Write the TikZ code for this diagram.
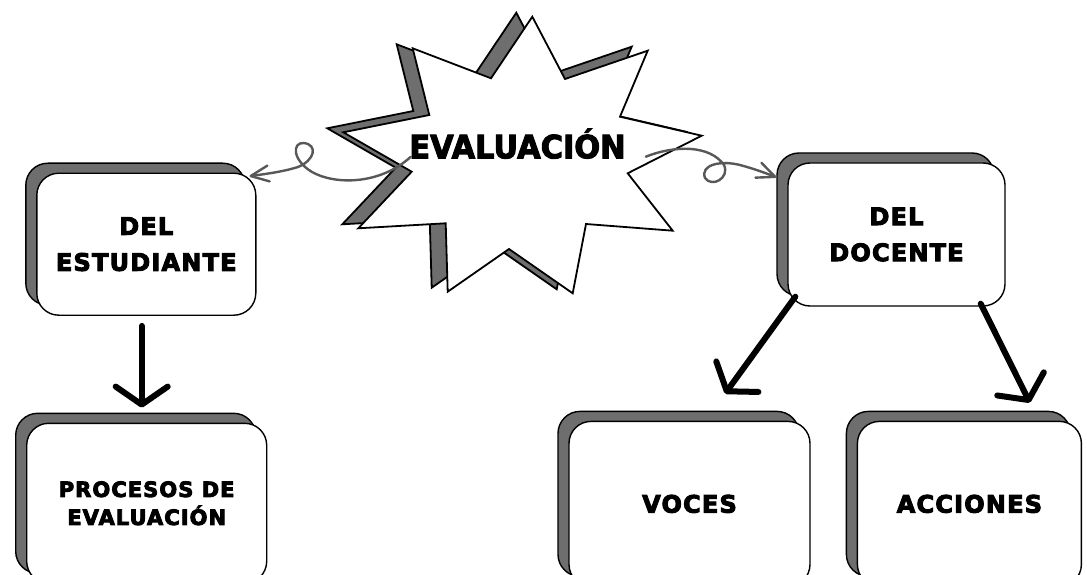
\documentclass[tikz,border=0pt]{standalone}
\usepackage{fontspec}
\usepackage{tikz}
\usetikzlibrary{calc}
\usetikzlibrary{positioning}
\usetikzlibrary{shadows,arrows.meta}

\newfontfamily\cardFont{DejaVu Sans Bold}[LetterSpace=5,FakeBold=4]
\newfontfamily\titleFont{DejaVu Sans Bold}[FakeStretch=0.95,FakeBold=3]
\definecolor{shadowGray}{HTML}{6E6E6E}
\definecolor{curlGray}{HTML}{585858}

\begin{document}
\begin{tikzpicture}[x=1pt, y=-1pt]
            \useasboundingbox (0,0) rectangle (1087,575);
            \clip (0,0) rectangle (1087,575);
            % Set primary nodes
            \tikzset{
                cardNode/.style={
                        draw,
                        rectangle,
                        rounded corners=22pt,
                        fill=white,
                        line width=1.4pt,
                        align=center,
                        font=\cardFont\fontsize{24}{36}\selectfont,
                        general shadow={fill=shadowGray, draw=black, shadow xshift=-11pt, shadow yshift=10pt}
                    }
            }
            \tikzset{
                titleNode/.style={
                        inner sep=0pt,
                        font=\titleFont\fontsize{32}{36}\selectfont
                    }
            }
            \tikzset{
                starShape/.style={
                        draw=black,
                        line width=1.8pt,
                        line join=miter
                    }
            }
            % Configure arrows
            \tikzset{
                bigArrow/.style={
                        draw=black,
                        line width=6pt,
                        line cap=round,
                        -{Straight Barb[length=18pt,width=52pt,round]}
                    }
            }
            \tikzset{
                curlyArrow/.style={
                        draw=curlGray,
                        line width=2.4pt,
                        line cap=round,
                        -{Straight Barb[length=18pt,width=16pt,round]}
                    }
            }
            % Star with its shadow
            \foreach \dx/\dy/\col in {-16/-4/shadowGray, 0/0/white}{
                \draw[starShape, fill=\col, shift={(\dx,\dy)}]
                    (532.3,16.7) -- (565,79) -- (647.7,50.7) -- (620,116.7)
                    -- (701.7,135.7) -- (627.7,173.3) -- (672.7,230.7) -- (586,224)
                    -- (572.7,293.3) -- (509,249) -- (447.7,291.7) -- (445.7,223.3)
                    -- (358.3,228.3) -- (411.7,171.7) -- (343.3,132.3) -- (429.3,115)
                    -- (412.7,48.3) -- (491,78.3) -- cycle;
            }
            % Placing nodes
            \node[titleNode, anchor=base](evaluacion) at (517.5,158.3){EVALUACIÓN};
            \node[cardNode, minimum width=219pt, minimum height=142pt](estudiante) at (146.3,244.2){DEL\\ESTUDIANTE};
            \node[cardNode, minimum width=240pt, minimum height=160pt, below = 106.7pt of estudiante, xshift = 0.4pt,
                font=\cardFont\fontsize{21}{28}\selectfont](procesos){PROCESOS DE\\EVALUACIÓN};
            \node[cardNode, minimum width=217pt, minimum height=143pt](docente) at (896.5,234.5){DEL\\DOCENTE};
            \node[cardNode, minimum width=241pt, minimum height=165pt, below = 114pt of docente, xshift = -207pt](voces){VOCES};
            \node[cardNode, minimum width=224pt, minimum height=165pt, right = 46pt of voces](acciones){ACCIONES};
            % Draw arrows
            \draw[curlyArrow] ([xshift=1.7pt,yshift=1.6pt]evaluacion.base west)
                .. controls (380,185) and (335,185) .. (312,172)
                .. controls (292,160) and (292,142) .. (304,143)
                .. controls (318,145) and (315,160) .. (298,167)
                .. controls (282,172) and (265,174) .. ([xshift=-7pt,yshift=-3.7pt]estudiante.north east);
            \draw[curlyArrow] ([xshift=20pt,yshift=1.6pt]evaluacion.base east)
                .. controls (675,145) and (710,145) .. (724,165)
                .. controls (730,178) and (712,188) .. (705,178)
                .. controls (700,165) and (720,160) .. (740,165)
                .. controls (755,169) and (768,174) .. ([xshift=-11pt,yshift=-15pt]docente.north west);
            \draw[bigArrow] ([xshift=-4.6pt,yshift=-10pt]estudiante.south) -- ([xshift=-5pt,yshift=15pt]procesos.north);
            \draw[bigArrow] ([xshift=8pt,yshift=10pt]docente.south west) -- ([xshift=35.5pt,yshift=27pt]voces.north);
            \draw[bigArrow] ([xshift=-25pt,yshift=3pt]docente.south east) -- ([xshift=60.5pt,yshift=18pt]acciones.north);
        \end{tikzpicture}
\end{document}
